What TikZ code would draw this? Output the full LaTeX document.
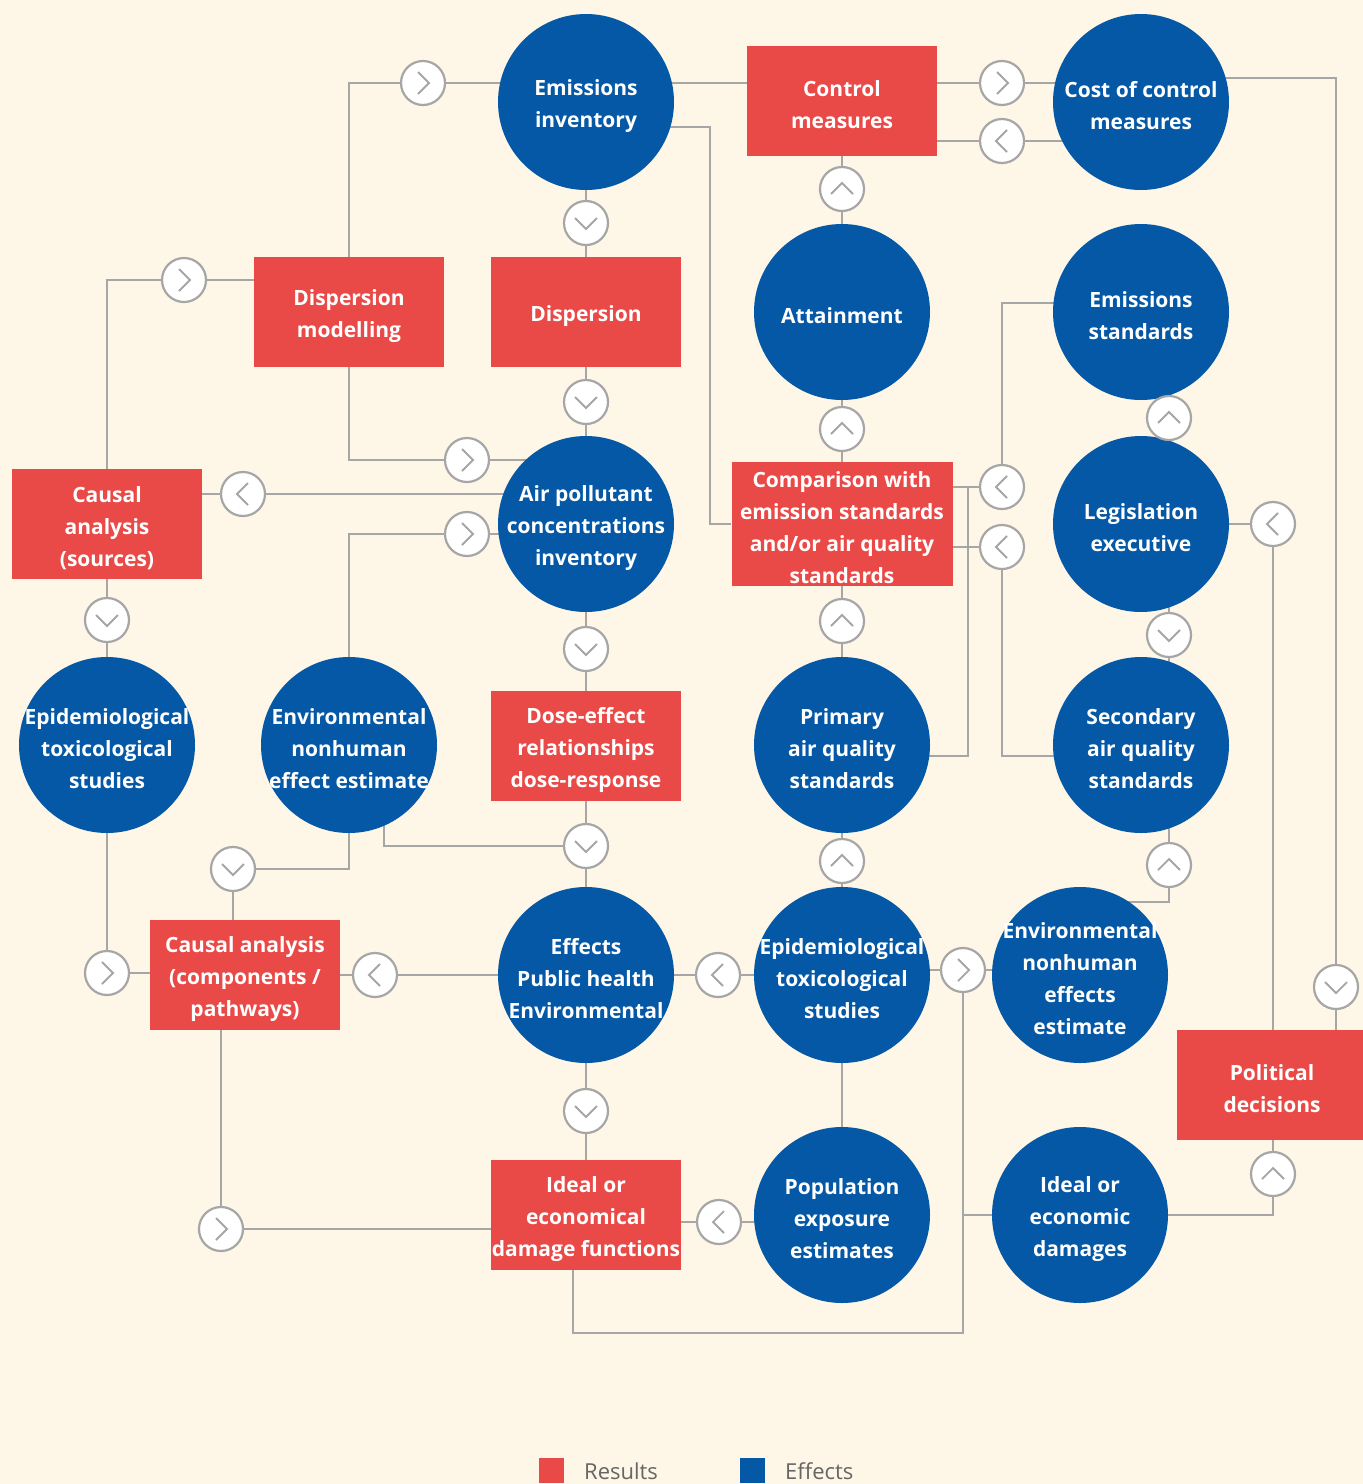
\documentclass[tikz,border=0pt]{standalone}
\usepackage{fontspec}
\setmainfont{Open Sans}
\usepackage{tikz}
\usetikzlibrary{shapes,arrows,positioning}
\pgfdeclarelayer{background}
\pgfdeclarelayer{foreground}
\pgfsetlayers{background,main,foreground}
\definecolor{cream}{HTML}{FEF6E6}
\definecolor{resred}{HTML}{E94A47}
\definecolor{effblue}{HTML}{0558A5}
\definecolor{wire}{HTML}{A6A6A6}
\definecolor{legtext}{HTML}{666666}
\tikzstyle{redblock}=[rectangle, fill=resred, minimum width=190pt, minimum height=110pt, inner sep=0pt]
\tikzstyle{bluedisc}=[circle, fill=effblue, minimum size=176pt, inner sep=0pt]
\tikzstyle{whitetext}=[text=white, align=center, font=\bfseries\fontsize{21}{32}\selectfont, inner sep=0pt, yshift=-4pt]
\tikzstyle{knob}=[circle, draw=wire, fill=white, line width=2.2pt, minimum size=44pt, inner sep=0pt]
\tikzstyle{toright}=[knob, path picture={\draw[wire, line width=1.8pt] ([shift={(-5pt,11pt)}]path picture bounding box.center) -- ++(11pt,-11pt) -- ++(-11pt,-11pt);}]
\tikzstyle{toleft}=[knob, path picture={\draw[wire, line width=1.8pt] ([shift={(5pt,11pt)}]path picture bounding box.center) -- ++(-11pt,-11pt) -- ++(11pt,-11pt);}]
\tikzstyle{toup}=[knob, path picture={\draw[wire, line width=1.8pt] ([shift={(-11pt,-5pt)}]path picture bounding box.center) -- ++(11pt,11pt) -- ++(11pt,-11pt);}]
\tikzstyle{todown}=[knob, path picture={\draw[wire, line width=1.8pt] ([shift={(-11pt,5pt)}]path picture bounding box.center) -- ++(11pt,-11pt) -- ++(11pt,11pt);}]
\tikzstyle{wireline}=[draw=wire, line width=2pt]
\tikzstyle{legbox}=[rectangle, minimum size=25pt, inner sep=0pt]
\tikzstyle{legword}=[anchor=base west, text=legtext, font=\fontsize{22}{24}\selectfont, inner sep=0pt]
\newcommand{\effdisc}[3]{
 \node[bluedisc] (#1) at (#2) {};
 \node[whitetext] (#1-t) at (#1) {#3};}
\newcommand{\resbox}[4][]{
 \node[redblock,#1] (#2) at (#3) {};
 \node[whitetext] (#2-t) at (#2) {#4};}

\begin{document}
\begin{tikzpicture}[x=1pt, y=-1pt]

\useasboundingbox (0,0) rectangle (1363,1484);

\effdisc{emi}{586,102}{Emissions\\inventory}
\resbox{ctrl}{842,101}{Control\\measures}
\effdisc{cost}{1141,102}{Cost of control\\measures}
\resbox{dmod}{349,312}{Dispersion\\modelling}
\resbox{disp}{586,312}{Dispersion}
\effdisc{att}{842,312}{Attainment}
\effdisc{estd}{1141,312}{Emissions\\standards}
\resbox{caus1}{107,524}{Causal\\analysis\\(sources)}
\effdisc{apc}{586,524}{Air pollutant\\concentrations\\inventory}
\resbox[minimum width=221pt, minimum height=124pt]{comp}{842,524}{Comparison with\\emission standards\\and/or air quality\\standards}
\effdisc{leg}{1141,524}{Legislation\\executive}
\effdisc{epi1}{107,745}{Epidemiological\\toxicological\\studies}
\effdisc{env1}{349,745}{Environmental\\nonhuman\\effect estimate}
\resbox{dose}{586,746}{Dose-effect\\relationships\\dose-response}
\effdisc{prim}{842,745}{Primary\\air quality\\standards}
\effdisc{sec}{1141,745}{Secondary\\air quality\\standards}
\resbox{caus2}{245,975}{Causal analysis\\(components /\\pathways)}
\effdisc{eff}{586,975}{Effects\\Public health\\Environmental}
\effdisc{epi2}{842,975}{Epidemiological\\toxicological\\studies}
\effdisc{env2}{1080,975}{Environmental\\nonhuman\\effects\\estimate}
\resbox{pol}{1272,1085}{Political\\decisions}
\resbox{dmg}{586,1215}{Ideal or\\economical\\damage functions}
\effdisc{pop}{842,1215}{Population\\exposure\\estimates}
\effdisc{ideal}{1080,1215}{Ideal or\\economic\\damages}

\node[toright] (a1) at (423,83) {};
\node[todown] (a2) at (586,223) {};
\node[toright] (a3) at (184,280) {};
\node[todown] (a4) at (586,402) {};
\node[toright] (a5) at (467,460) {};
\node[toleft] (a6) at (243,494) {};
\node[toright] (a7) at (467,534) {};
\node[todown] (a8) at (107,620) {};
\node[todown] (a9) at (586,649) {};
\node[toup] (a10) at (842,189) {};
\node[toup] (a11) at (842,429) {};
\node[toup] (a12) at (842,621) {};
\node[toup] (a13) at (842,861) {};
\node[toright] (a14) at (1002,83) {};
\node[toleft] (a15) at (1002,141) {};
\node[toup] (a16) at (1169,418) {};
\node[toleft] (a17) at (1002,487) {};
\node[toleft] (a18) at (1002,547) {};
\node[toleft] (a19) at (1273,524) {};
\node[todown] (a20) at (1169,635) {};
\node[toup] (a21) at (1169,865) {};
\node[todown] (a22) at (1336,987) {};
\node[toup] (a23) at (1273,1174) {};
\node[todown] (a24) at (233,869) {};
\node[todown] (a25) at (586,846) {};
\node[toright] (a26) at (107,973) {};
\node[toleft] (a27) at (375,975) {};
\node[toleft] (a28) at (718,975) {};
\node[toright] (a29) at (963,970) {};
\node[todown] (a30) at (586,1111) {};
\node[toright] (a31) at (221,1229) {};
\node[toleft] (a32) at (719,1222) {};

\coordinate (j1) at (968,487);
\coordinate (low) at (963,1333);

\node[legbox, fill=resred] (kres) at (551.5,1470.5) {};
\node[legword] (lres) at (584,1479) {Results};
\node[legbox, fill=effblue] (keff) at (752.5,1470.5) {};
\node[legword] (leff) at (785,1479) {Effects};

\begin{pgfonlayer}{background}
\fill[cream] (0,0) rectangle (1363,1484);
\draw[wireline] (dmod.north) |- (a1) -- (a1 -| emi);
\draw[wireline] (a14 -| emi) -- (a14 -| ctrl);
\draw[wireline] (emi) -- (a2) -- (disp);
\draw[wireline] (caus1.north) |- (a3) -- (a3 -| dmod);
\draw[wireline] (disp) -- (a4) -- (apc);
\draw[wireline] (dmod.south) |- (a5) -- (a5 -| apc);
\draw[wireline] (a6 -| apc) -- (a6) -- (a6 -| caus1);
\draw[wireline] (env1.north) |- (a7) -- (a7 -| apc);
\draw[wireline] (caus1) -- (a8) -- (epi1);
\draw[wireline] (apc) -- (a9) -- (dose);
\draw[wireline] ([yshift=-25pt]emi.center) -| ([xshift=-21pt]comp.west) -- (comp.west);
\draw[wireline] (ctrl) -- (a10) -- (att) -- (a11) -- (comp) -- (a12) -- (prim) -- (a13) -- (epi2) -- (pop);
\draw[wireline] (a14 -| ctrl) -- (a14) -- (a14 -| cost);
\draw[wireline] (a15 -| cost) -- (a15) -- (a15 -| ctrl);
\draw[wireline] (a16 |- estd) -- (a16) -- (a16 |- leg);
\draw[wireline] ([yshift=9pt]estd.center) -| (a17) -- (a17 -| comp);
\draw[wireline] ([yshift=-11pt]prim.center) -| (j1);
\draw[wireline] ([yshift=-11pt]sec.center) -| (a18) -- (a18 -| comp);
\draw[wireline] (leg) -- (a19) -- (a19 |- pol);
\draw[wireline] (a20 |- leg) -- (a20) -- (a20 |- sec);
\draw[wireline] ([yshift=73pt]env2.center) -| (a21) -- (a21 |- sec);
\draw[wireline] ([yshift=24pt]cost.center) -| (a22) -- (a22 |- pol);
\draw[wireline] (ideal) -| (a23) -- (a23 |- pol);
\draw[wireline] (env1) |- (a24) -- (a24 |- caus2);
\draw[wireline] (dose) -- (a25) -- (eff);
\draw[wireline] ([xshift=35pt]env1.center) |- (a25);
\draw[wireline] (epi1) |- (a26) -- (a26 -| caus2);
\draw[wireline] (eff) -- (a27) -- (caus2);
\draw[wireline] (epi2) -- (a28) -- (eff);
\draw[wireline] (a29 -| epi2) -- (a29) -- (a29 -| env2);
\draw[wireline] (a29) |- (ideal);
\draw[wireline] (a29) -- (low) -| ([xshift=-13pt]dmg.south);
\draw[wireline] (eff) -- (a30) -- (dmg);
\draw[wireline] (a31 |- caus2) -- (a31) -- (a31 -| dmg);
\draw[wireline] (a32 -| pop) -- (a32) -- (a32 -| dmg);
\end{pgfonlayer}

\end{tikzpicture}
\end{document}
